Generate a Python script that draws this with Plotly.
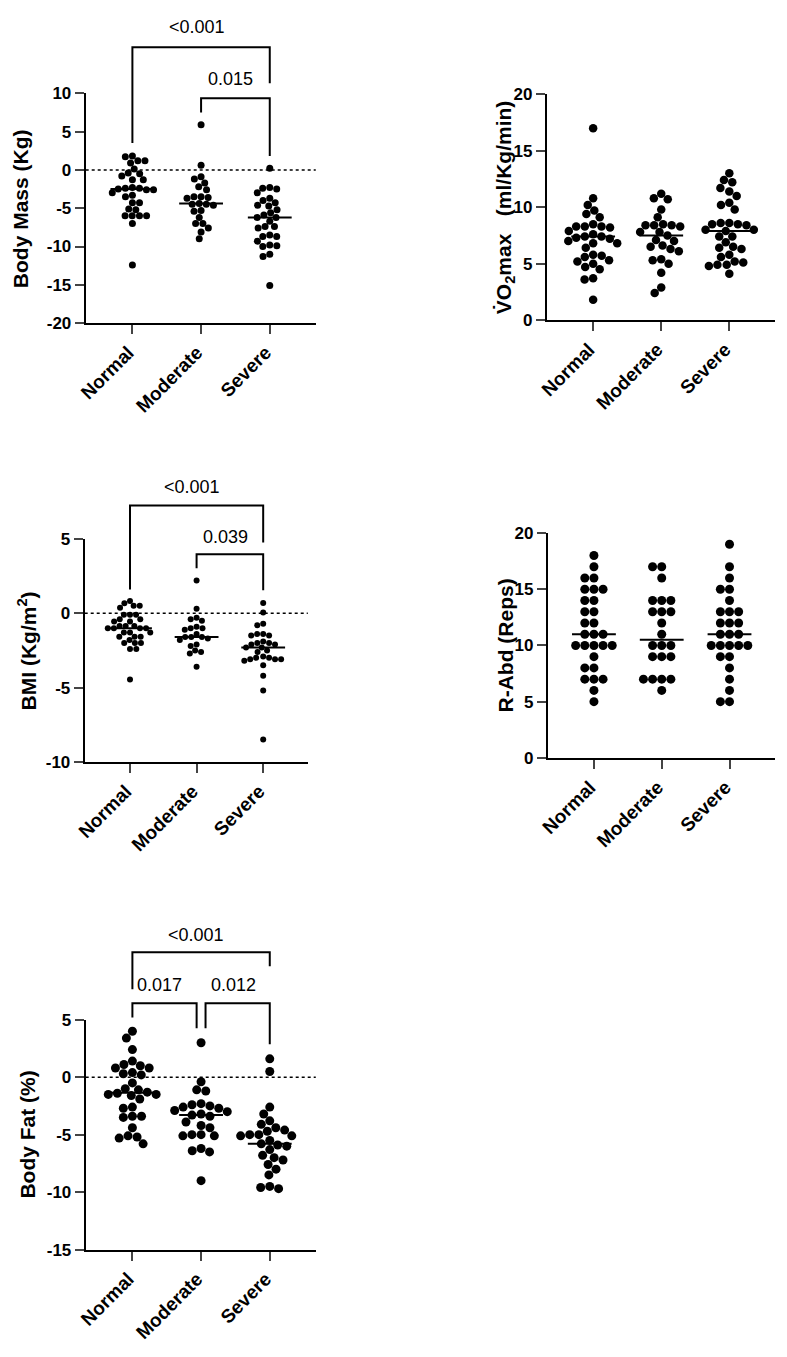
import numpy as np
import plotly.graph_objects as go

OFF = 8  # default body margin of the html page
W, H = 771, 1341
# calibration of the photographed page found by comparing renders with the reference
CALY_A, CALY_B = 8.8, 0.9864
CALX_A, CALX_B = 8.1, 0.991
categories = ["Normal", "Moderate", "Severe"]

# ---- Body Mass (Kg) ----
bm_normal = [1.8, 1.7, 1.2, 1.2, 0.9, 0.1, -0.4, -0.5, -0.8, -1.3, -1.3, -2.3, -2.4, -2.4, -2.5,
             -2.6, -2.6, -3.0, -3.3, -3.5, -4.3, -4.3, -5.1, -5.2, -6.0, -6.0, -6.0, -6.0, -7.0, -12.4]
bm_moderate = [5.9, 0.6, -0.9, -1.2, -1.7, -2.2, -2.6, -3.5, -3.5, -3.6, -3.7, -4.4, -4.5, -4.5,
               -4.6, -5.3, -5.4, -6.2, -7.0, -7.0, -7.6, -8.1, -9.0]
bm_severe = [0.2, -2.3, -2.4, -2.5, -3.0, -3.7, -4.0, -4.3, -4.6, -4.7, -5.2, -5.6, -5.9, -6.2, -6.2,
             -6.7, -7.4, -7.4, -7.6, -8.5, -8.7, -8.7, -9.3, -9.8, -9.9, -10.0, -11.0, -11.3, -15.1]
bm_median = [-2.5, -4.4, -6.2]

# ---- VO2max (ml/Kg/min) ----
vo_normal = [17.0, 10.8, 10.2, 9.7, 9.4, 9.1, 8.5, 8.3, 8.3, 8.3, 8.2, 7.9, 7.6, 7.4, 7.4, 7.3,
             7.2, 7.0, 6.8, 6.8, 6.4, 5.8, 5.7, 5.6, 5.3, 5.2, 5.0, 4.7, 4.5, 3.7, 3.6, 1.8]
vo_moderate = [11.2, 10.8, 10.7, 9.8, 9.1, 8.5, 8.4, 8.4, 8.4, 8.3, 7.8, 7.8, 7.5, 7.1, 7.0, 6.6,
               6.5, 6.3, 6.1, 5.4, 5.3, 5.0, 4.2, 2.9, 2.4]
vo_severe = [13.0, 12.4, 12.2, 11.7, 11.4, 11.0, 10.4, 10.2, 9.8, 8.6, 8.6, 8.5, 8.5, 8.4, 8.0,
             8.0, 7.9, 7.4, 7.4, 6.9, 6.5, 6.4, 6.3, 5.8, 5.6, 5.2, 5.1, 4.9, 4.9, 4.8, 4.1]
vo_median = [7.4, 7.5, 7.9]

# ---- BMI (Kg/m2) ----
bmi_normal = [0.83, 0.67, 0.5, 0.5, 0.38, -0.1, -0.1, -0.1, -0.4, -0.4, -0.56, -0.56, -0.85, -0.85,
              -0.85, -1.0, -1.0, -1.0, -1.0, -1.3, -1.3, -1.3, -1.57, -1.57, -1.57, -1.8, -2.0,
              -2.0, -2.0, -2.4, -2.4, -4.45]
bmi_moderate = [2.2, 0.3, -0.3, -0.4, -0.5, -0.9, -1.0, -1.0, -1.1, -1.4, -1.6, -1.6, -1.6, -1.7,
                -1.8, -2.1, -2.2, -2.5, -2.6, -2.7, -3.6]
bmi_severe = [0.7, 0.05, -0.7, -0.8, -1.4, -1.4, -1.5, -1.5, -1.9, -2.0, -2.0, -2.1, -2.1, -2.3,
              -2.3, -2.5, -2.6, -2.9, -3.0, -3.0, -3.1, -3.1, -3.1, -3.2, -3.5, -4.2, -5.2, -8.5]
bmi_median = [-1.0, -1.6, -2.3]

# ---- R-Abd (Reps) ----
ra_normal = [18, 17, 16, 16, 15, 15, 15, 14, 14, 13, 13, 12, 12, 11, 11, 11, 10, 10, 10, 10, 10,
             9, 8, 8, 7, 7, 7, 6, 5]
ra_moderate = [17, 17, 16, 14, 14, 14, 13, 13, 13, 12, 11, 10, 10, 10, 9, 9, 9, 7, 7, 7, 7, 6]
ra_severe = [19, 17, 16, 15, 15, 14, 13, 13, 13, 12, 12, 12, 11, 11, 11, 10, 10, 10, 10, 10, 9, 9,
             8, 7, 6, 5, 5]
ra_median = [11, 10.5, 11]

# ---- Body Fat (%) ----
bf_normal = [4.0, 3.4, 2.4, 1.4, 1.1, 1.0, 0.8, 0.8, 0.4, 0.3, 0.2, -0.5, -1.0, -1.1, -1.3, -1.4,
             -1.5, -1.6, -1.5, -1.9, -2.6, -2.7, -3.4, -3.4, -3.5, -4.4, -5.1, -5.2, -5.3, -5.8]
bf_moderate = [3.0, -0.4, -1.1, -1.2, -2.3, -2.4, -2.5, -2.6, -2.7, -2.9, -3.0, -3.2, -3.3, -3.4,
               -3.9, -4.2, -4.4, -5.0, -5.0, -5.1, -5.1, -6.2, -6.4, -6.5, -9.0]
bf_severe = [1.6, 0.5, -2.6, -3.2, -3.8, -4.1, -4.4, -4.6, -4.7, -5.0, -5.0, -5.1, -5.1, -5.5,
             -5.8, -5.9, -6.0, -6.3, -6.8, -7.0, -7.2, -7.6, -8.0, -8.5, -9.5, -9.6, -9.7]
bf_median = [-1.35, -3.3, -5.8]

FONT = "Arial, Liberation Sans, Helvetica, sans-serif"

panels = [
    dict(title="Body Mass (Kg)", groups=[bm_normal, bm_moderate, bm_severe], med=bm_median,
         xpx=(84, 315), ypx=(93, 323), yr=(-20, 10), dt=5, msize=7, zero=True, tx=18,
         brackets=[(0, 2, 16.0, 3.5, 11.3), (1, 2, 9.35, 7.5, 1.8)],
         ptext=[(0.94, 18.6, "<0.001"), (1.43, 11.8, "0.015")]),
    dict(title="V\u0307O<sub>2</sub>max\u00a0\u00a0\u00a0(ml/Kg/min)", groups=[vo_normal, vo_moderate, vo_severe],
         med=vo_median, xpx=(547, 776), ypx=(94, 320), yr=(0, 20), dt=5, msize=8.5, zero=False,
         tx=505, brackets=[], ptext=[]),
    dict(title="BMI (Kg/m<sup>2</sup>)", groups=[bmi_normal, bmi_moderate, bmi_severe], med=bmi_median,
         xpx=(83, 307), ypx=(539, 762), yr=(-10, 5), dt=5, msize=6, zero=True, tx=26,
         brackets=[(0, 2, 7.26, 1.6, 4.77), (1, 2, 3.97, 3.03, 1.55)],
         ptext=[(0.93, 8.47, "<0.001"), (1.43, 5.11, "0.039")]),
    dict(title="R-Abd (Reps)", groups=[ra_normal, ra_moderate, ra_severe], med=ra_median,
         xpx=(548, 776), ypx=(533, 758), yr=(0, 20), dt=5, msize=9, zero=False, tx=505,
         brackets=[], ptext=[]),
    dict(title="Body Fat (%)", groups=[bf_normal, bf_moderate, bf_severe], med=bf_median,
         xpx=(84, 315), ypx=(1020, 1250), yr=(-15, 5), dt=5, msize=9, zero=True, tx=26,
         brackets=[(0, 2, 10.87, 7.65, 9.65), (0, 0.935, 6.43, 5.2, 4.26), (1.065, 2, 6.43, 4.26, 2.87)],
         ptext=[(0.93, 12.4, "<0.001"), (0.39, 8.0, "0.017"), (1.47, 8.0, "0.012")]),
]

XR = (-0.68, 2.67)


def px_x(px):
    page = (px - CALX_A) / CALX_B
    return (page - OFF) / W


def px_y(px):
    page = (px - CALY_A) / CALY_B
    return 1 - (page - OFF) / H


def swarm(values, diam, ypu):
    ys = np.asarray(values, float) * ypu
    order = np.argsort(-ys, kind="stable")
    placed = []
    xs = np.zeros(len(ys))
    for i in order:
        y = ys[i]
        iv = []
        for xj, yj in placed:
            dy = abs(y - yj)
            if dy < diam:
                dx = np.sqrt(diam ** 2 - dy ** 2)
                iv.append((xj - dx, xj + dx))
        cands = [0.0] + [e for a in iv for e in a]
        good = [c for c in cands if all(not (a + 1e-6 < c < b - 1e-6) for a, b in iv)]
        best = min(good, key=lambda c: (round(abs(c), 6), c))
        xs[i] = best
        placed.append((best, y))
    return xs


fig = go.Figure()
layout = dict(width=W, height=H, autosize=False, margin=dict(l=0, r=0, t=0, b=0, pad=0),
              paper_bgcolor="white", plot_bgcolor="white", showlegend=False,
              font=dict(family=FONT, color="black"))
shapes, annotations = [], []

for k, p in enumerate(panels):
    n = "" if k == 0 else str(k + 1)
    xa, ya = "x" + n, "y" + n
    x0, x1 = p["xpx"]
    ytop, ybot = p["ypx"]
    lo, hi = p["yr"]
    xpu = (x1 - x0) / (XR[1] - XR[0])
    ypu = (ybot - ytop) / (hi - lo)
    d = p["msize"]
    for gi, vals in enumerate(p["groups"]):
        offs = swarm(vals, d * 1.02, ypu)
        fig.add_trace(go.Scatter(x=gi + offs / xpu, y=vals, mode="markers", xaxis=xa, yaxis=ya,
                                 marker=dict(size=d, color="black", line=dict(width=0)),
                                 cliponaxis=False, hoverinfo="skip"))
        hw = 22 / xpu
        fig.add_trace(go.Scatter(x=[gi - hw, gi + hw], y=[p["med"][gi]] * 2, mode="lines",
                                 xaxis=xa, yaxis=ya, line=dict(color="black", width=2),
                                 hoverinfo="skip"))
    tv = list(range(lo, hi + 1, p["dt"]))
    layout["xaxis" + n] = dict(domain=[px_x(x0), px_x(x1)], range=list(XR), anchor=ya,
                               tickmode="array", tickvals=[0, 1, 2], ticktext=categories,
                               tickangle=-45, ticks="outside", ticklen=9, tickwidth=2,
                               ticklabelshift=-4,
                               showline=True, linewidth=2, linecolor="black", showgrid=False,
                               zeroline=False, tickfont=dict(family=FONT, size=19, weight=700),
                               fixedrange=True)
    layout["yaxis" + n] = dict(domain=[px_y(ybot), px_y(ytop)], range=[lo, hi], anchor=xa,
                               tickmode="array", tickvals=tv, ticktext=[str(v) for v in tv],
                               ticks="outside", ticklen=9, tickwidth=2, showline=True,
                               linewidth=2, linecolor="black", showgrid=False, zeroline=False,
                               tickfont=dict(family=FONT, size=17, weight=700), fixedrange=True)
    if p["zero"]:
        shapes.append(dict(type="line", xref=xa + " domain", yref=ya, x0=0, x1=1, y0=0, y1=0,
                           line=dict(color="black", width=1.5, dash="dot"), layer="below"))

    def dom(v, lo=lo, hi=hi):
        return (v - lo) / (hi - lo)

    for (bx0, bx1, btop, bl, br) in p["brackets"]:
        path = "M {a},{b} L {a},{c} L {d},{c} L {d},{e}".format(a=bx0, b=dom(bl), c=dom(btop),
                                                                 d=bx1, e=dom(br))
        shapes.append(dict(type="path", xref=xa, yref=ya + " domain", path=path,
                           line=dict(color="black", width=2)))
    for (tx, ty, txt) in p["ptext"]:
        annotations.append(dict(x=tx, y=dom(ty), xref=xa, yref=ya + " domain", text=txt,
                                showarrow=False, font=dict(family=FONT, size=18, color="black"),
                                xanchor="center", yanchor="middle"))
    annotations.append(dict(x=px_x(p["tx"]), y=px_y((ytop + ybot) / 2), xref="paper", yref="paper",
                            text=p["title"], textangle=-90, showarrow=False,
                            font=dict(family=FONT, size=21, weight=700, color="black"),
                            xanchor="center", yanchor="middle"))

layout["shapes"] = shapes
layout["annotations"] = annotations
fig.update_layout(**layout)
fig.write_html("out.html")
